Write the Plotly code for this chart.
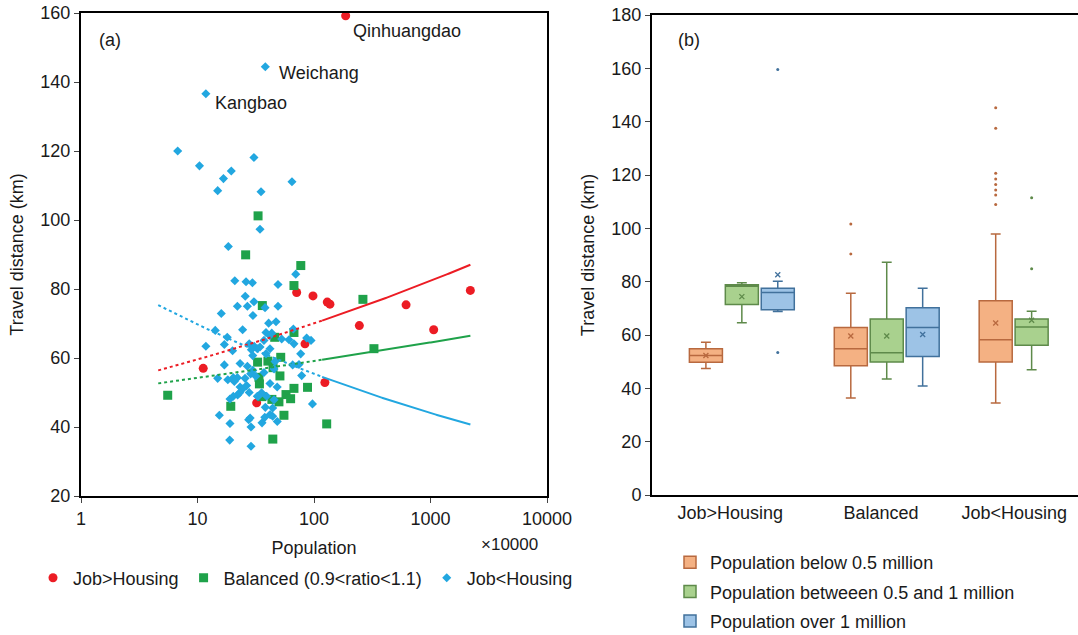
import numpy as np
import plotly.graph_objects as go

# ---------------- Panel (a) data: population (x10000) vs travel distance (km)
jh_pop = [11.2, 32.2, 71, 98, 130, 137, 245, 617, 1065, 2198, 83.7, 124, 187]
jh_dist = [57.0, 47.0, 79.0, 78.0, 76.2, 75.6, 69.4, 75.4, 68.2, 79.6, 64.1, 52.9, 159.2]

bal_pop = [33.1, 25.9, 77, 67.3, 36, 263, 46, 67.3, 327, 51.8, 32.8, 40.2, 44.5, 51,
           33.7, 34, 67.3, 88, 35.6, 43.5, 50, 57.5, 63, 19.3, 55.2, 44.3, 128.5, 5.55]
bal_dist = [101.2, 89.9, 86.8, 81.0, 75.2, 77.0, 66.0, 67.4, 62.7, 60.2, 58.8, 59.1, 57.2, 54.8,
            54.4, 52.5, 51.2, 51.5, 48.8, 48.0, 47.3, 49.4, 48.2, 46.0, 43.4, 36.5, 40.9, 49.2]

jl_pop = [38.2, 11.8, 6.76, 10.4, 30.5, 19.5, 16.7, 14.9, 35.1, 64.7, 34.4, 18.4, 20.9, 26.1,
          29.6, 49.1, 69.7, 25.7, 22.0, 26.8, 30.5, 38.0, 49.1, 16.0, 29.9, 40.8, 47.2, 14.2,
          24.4, 38.7, 43.4, 66.5, 18.0, 11.8, 17.0, 37.2, 41.7, 27.8, 30.7, 32.6, 34.4, 29.0,
          20.0, 52.8, 61.0, 67.3, 86.5, 94.3, 41.9, 38.7, 76.9, 29.8, 17.0, 23.2, 26.8, 46.3,
          65.6, 74.3, 45.4, 29.8, 37.2, 28.6, 31.7, 78.4, 14.9, 18.2, 20.3, 22.0, 25.6, 20.7,
          23.2, 24.4, 26.4, 41.9, 48.3, 23.0, 22.1, 27.8, 35.5, 39.2, 32.6, 19.0, 20.3, 33.2,
          45.4, 97.0, 38.2, 44.2, 15.4, 27.5, 28.3, 19.0, 28.8, 35.8, 37.8, 42.0, 44.2, 48.4,
          18.9, 28.8]
jl_dist = [144.4, 136.6, 120.0, 115.7, 118.1, 114.2, 112.0, 108.5, 108.2, 111.1, 97.3, 92.3, 82.4, 82.1,
           81.8, 81.3, 84.3, 77.9, 75.0, 75.0, 76.3, 74.6, 75.0, 72.9, 72.3, 70.1, 70.5, 68.0,
           68.2, 67.4, 67.2, 68.4, 66.0, 63.4, 63.9, 65.1, 66.5, 64.1, 63.4, 62.7, 63.2, 62.4,
           62.1, 65.5, 65.3, 64.1, 65.8, 65.1, 62.7, 61.2, 61.2, 60.7, 58.0, 58.4, 57.6, 59.0,
           58.0, 58.1, 56.8, 56.4, 55.8, 55.4, 54.7, 54.9, 54.1, 53.7, 54.3, 54.3, 54.1, 53.2,
           51.6, 51.0, 52.0, 52.6, 51.6, 49.9, 49.3, 50.0, 49.9, 48.9, 48.9, 48.1, 48.9, 48.9,
           47.9, 46.7, 45.7, 45.5, 43.4, 42.1, 42.6, 41.0, 40.0, 41.2, 42.8, 43.6, 43.1, 41.6,
           36.2, 34.4]

# named cities: (name, series, index)
city_labels = [("Qinhuangdao", "jh", 12), ("Weichang", "jl", 0), ("Kangbao", "jl", 1)]

trend_x_range = [4.6, 2200]     # extent of the power trendlines
trend_split = 120               # dotted left of this, solid right

# ---------------- Panel (b) data: box statistics (km)
categories = ["Job>Housing", "Balanced", "Job<Housing"]
size_names = ["Population below 0.5 million",
              "Population betweeen 0.5 and 1 million",
              "Population over 1 million"]

small_lf = [47.4, 36.4, 34.5]
small_q1 = [49.8, 48.5, 49.9]
small_med = [52.3, 54.8, 58.2]
small_q3 = [54.8, 62.8, 72.8]
small_uf = [57.3, 75.7, 97.9]
small_mean = [52.3, 59.6, 64.5]

mid_lf = [64.6, 43.5, 47.0]
mid_q1 = [71.4, 49.9, 56.2]
mid_med = [78.3, 53.3, 63.0]
mid_q3 = [78.8, 66.0, 66.0]
mid_uf = [79.6, 87.3, 68.9]
mid_mean = [74.4, 59.6, 65.5]

big_lf = [68.8, 40.9]
big_q1 = [69.5, 51.9]
big_med = [75.9, 62.8]
big_q3 = [77.5, 70.2]
big_uf = [80.2, 77.5]
big_mean = [82.6, 60.2]

# outliers: (category index, value)
small_out = [(1, 90.4), (1, 101.6), (2, 145.2), (2, 137.5), (2, 120.7), (2, 118.5),
             (2, 116.4), (2, 114.4), (2, 112.5), (2, 108.9)]
mid_out = [(2, 84.8), (2, 111.5)]
big_out = [(0, 53.4), (0, 159.6)]

# ---------------- styling
FONT = "Arial, 'Liberation Sans', sans-serif"
RED, GREEN, BLUE = "#EC1C24", "#1FA24A", "#22A7E0"
TXT = "#1a1a1a"
W, H = 1078, 635

fig = go.Figure()

# scatter series
fig.add_trace(go.Scatter(x=jh_pop, y=jh_dist, mode="markers", name="Job>Housing",
                         marker=dict(symbol="circle", size=9, color=RED),
                         xaxis="x", yaxis="y", legend="legend"))
fig.add_trace(go.Scatter(x=bal_pop, y=bal_dist, mode="markers", name="Balanced (0.9<ratio<1.1)",
                         marker=dict(symbol="square", size=9, color=GREEN),
                         xaxis="x", yaxis="y", legend="legend"))
fig.add_trace(go.Scatter(x=jl_pop, y=jl_dist, mode="markers", name="Job<Housing",
                         marker=dict(symbol="diamond", size=7, color=BLUE),
                         xaxis="x", yaxis="y", legend="legend"))


def power_trend(xs, ys):
    b, lna = np.polyfit(np.log(xs), np.log(ys), 1)
    gx = np.logspace(np.log10(trend_x_range[0]), np.log10(trend_x_range[1]), 300)
    return gx, np.exp(lna) * gx ** b


for xs, ys, col in [(jh_pop, jh_dist, RED), (bal_pop, bal_dist, GREEN), (jl_pop, jl_dist, BLUE)]:
    gx, gy = power_trend(xs, ys)
    left = gx <= trend_split
    right = gx >= trend_split * 0.97
    fig.add_trace(go.Scatter(x=gx[left], y=gy[left], mode="lines", showlegend=False,
                             line=dict(color=col, width=2, dash="dot"), hoverinfo="skip",
                             xaxis="x", yaxis="y"))
    fig.add_trace(go.Scatter(x=gx[right], y=gy[right], mode="lines", showlegend=False,
                             line=dict(color=col, width=2), hoverinfo="skip",
                             xaxis="x", yaxis="y"))

# city annotations
series_lookup = {"jh": (jh_pop, jh_dist), "bal": (bal_pop, bal_dist), "jl": (jl_pop, jl_dist)}
label_shift = {"Qinhuangdao": (5, -15), "Weichang": (12, -6), "Kangbao": (7, -9)}
annotations = []
for name, key, idx in city_labels:
    px, py = series_lookup[key]
    dx, dy = label_shift[name]
    annotations.append(dict(x=np.log10(px[idx]), y=py[idx], xref="x", yref="y", text=name,
                            showarrow=False, xanchor="left", yanchor="middle",
                            xshift=dx, yshift=dy, font=dict(size=18, family=FONT, color=TXT)))

# ---------------- Panel (b) boxes
BOX_STEP = 0.248
BOX_W = 0.228
box_styles = [("#F4B183", "#B8693F"), ("#A9D18E", "#5E8A4A"), ("#9DC3E6", "#41719C")]
box_stats = [
    (small_lf, small_q1, small_med, small_q3, small_uf, small_mean, small_out),
    (mid_lf, mid_q1, mid_med, mid_q3, mid_uf, mid_mean, mid_out),
    (big_lf, big_q1, big_med, big_q3, big_uf, big_mean, big_out),
]
for k, (lf, q1, med, q3, uf, mean, outs) in enumerate(box_stats):
    fill, line = box_styles[k]
    off = (k - 1) * BOX_STEP
    pos = [i + off for i in range(len(q1))]
    fig.add_trace(go.Box(x=pos, lowerfence=lf, q1=q1, median=med, q3=q3, upperfence=uf,
                         name=size_names[k], width=BOX_W, whiskerwidth=0.3,
                         fillcolor=fill, line=dict(color=line, width=1.5),
                         legend="legend2", legendgroup=f"g{k}", boxpoints=False,
                         xaxis="x2", yaxis="y2", hoverinfo="skip"))
    fig.add_trace(go.Scatter(x=pos, y=mean, mode="markers", showlegend=False,
                             marker=dict(symbol="x-thin", size=5, line=dict(width=1.3, color=line)),
                             xaxis="x2", yaxis="y2", hoverinfo="skip"))
    fig.add_trace(go.Scatter(x=[c + off for c, _ in outs], y=[v for _, v in outs],
                             mode="markers", showlegend=False,
                             marker=dict(symbol="circle", size=3, color=line),
                             xaxis="x2", yaxis="y2", hoverinfo="skip"))

label_shift_b = [-0.08, -0.04, -0.12]

# ---------------- layout
ax_common = dict(showgrid=False, zeroline=False, showline=True, linecolor="black", linewidth=2,
                 automargin=False,
                 tickfont=dict(size=18, family=FONT, color=TXT),
                 title_font=dict(size=18, family=FONT, color=TXT))

annotations += [
    dict(x=97 / W, y=1 - 40 / H, xref="paper", yref="paper", text="(a)", showarrow=False,
         xanchor="left", yanchor="middle", font=dict(size=18, family=FONT, color=TXT)),
    dict(x=676 / W, y=1 - 40 / H, xref="paper", yref="paper", text="(b)", showarrow=False,
         xanchor="left", yanchor="middle", font=dict(size=18, family=FONT, color=TXT)),
    dict(x=509 / W, y=1 - 544 / H, xref="paper", yref="paper", text="×10000", showarrow=False,
         xanchor="center", yanchor="middle", font=dict(size=17, family=FONT, color=TXT)),
]

fig.update_layout(
    width=W, height=H, margin=dict(l=0, r=0, t=0, b=0, autoexpand=False),
    paper_bgcolor="white", plot_bgcolor="white",
    font=dict(family=FONT, size=18, color=TXT),
    xaxis=dict(domain=[81 / W, 547 / W], type="log", range=[0, 4],
               tickvals=[1, 10, 100, 1000, 10000], ticktext=["1", "10", "100", "1000", "10000"],
               ticks="outside", ticklen=5, tickwidth=1, mirror=True,
               title=dict(text="Population", standoff=14), anchor="y", **ax_common),
    yaxis=dict(domain=[1 - 496 / H, 1 - 13 / H], range=[20, 160], dtick=20,
               ticks="outside", ticklen=5, tickwidth=1, mirror=True,
               title=dict(text="Travel distance (km)", standoff=12), anchor="x", **ax_common),
    xaxis2=dict(domain=[652 / W, 1.0], range=[-0.62, 2.32],
                tickvals=[i + s for i, s in enumerate(label_shift_b)], ticktext=categories,
                ticks="", mirror=True, anchor="y2", **ax_common),
    yaxis2=dict(domain=[1 - 495 / H, 1 - 15 / H], range=[0, 180], dtick=20,
                ticks="outside", ticklen=5, tickwidth=1, mirror=False,
                title=dict(text="Travel distance (km)", standoff=12), anchor="x2", **ax_common),
    legend=dict(orientation="h", x=33 / W, y=1 - 578 / H, xanchor="left", yanchor="middle",
                font=dict(size=18, family=FONT), itemwidth=30, bgcolor="rgba(0,0,0,0)"),
    legend2=dict(orientation="v", x=670 / W, y=1 - 544 / H, xanchor="left", yanchor="top",
                 font=dict(size=18, family=FONT), traceorder="grouped", tracegroupgap=3,
                 itemwidth=30, bgcolor="rgba(0,0,0,0)"),
    annotations=annotations,
    showlegend=True,
)

fig.write_html("out.html")
